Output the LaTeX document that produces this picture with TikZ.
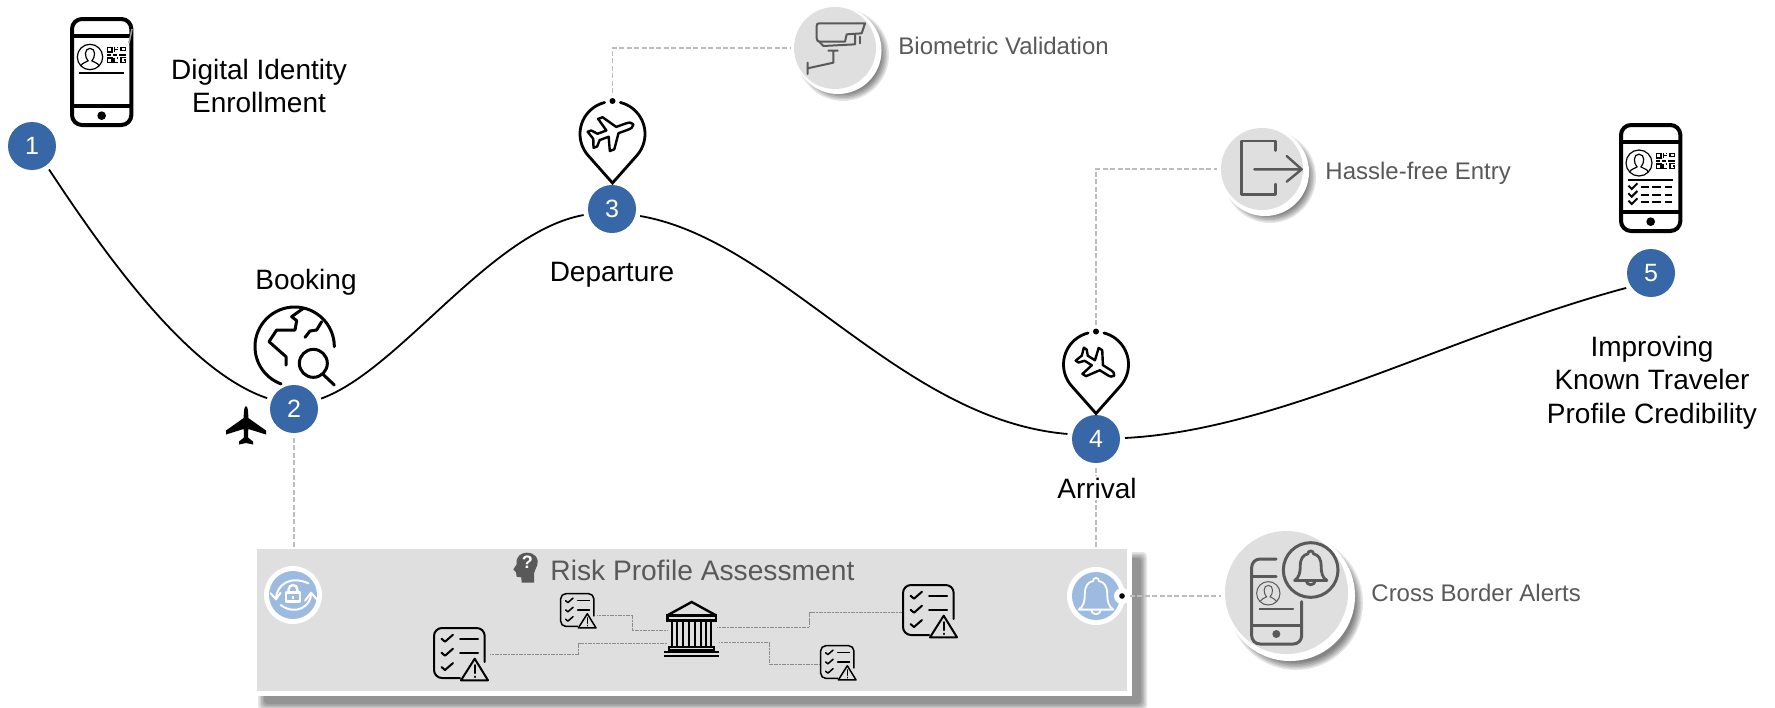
\documentclass[tikz,border=0pt]{standalone}
\usepackage{fontspec}
\setmainfont{Liberation Sans}
\usetikzlibrary{calc}
\definecolor{numblue}{HTML}{3767A6}
\definecolor{softblue}{HTML}{9DBBE0}
\definecolor{panelgrey}{HTML}{DFDFDF}
\definecolor{icongrey}{HTML}{595959}
\definecolor{dashgrey}{HTML}{BDBDBD}
\tikzset{
  zm/.style 2 args={shift={(#1,#2)},scale=0.33333},
  numc/.style={circle,fill=numblue,text=white,minimum size=24pt,inner sep=0pt,outer sep=2.5pt,font=\fontsize{12.5}{15}\selectfont},
  bigtext/.style={inner sep=0pt,align=center,font=\fontsize{14}{16.7}\selectfont},
  greytext/.style={inner sep=0pt,text=icongrey,font=\fontsize{12}{14}\selectfont},
  curve/.style={line width=0.9pt,black},
  dashline/.style={line width=0.9pt,dashgrey,dash pattern=on 2.5pt off 1.2pt},
  thinlink/.style={line width=0.5pt,black!45,dash pattern=on 0.6pt off 0.2pt},
  greydisc/.style={circle,fill=panelgrey,inner sep=0pt,outer sep=1.8pt},
  bluedisc/.style={circle,fill=softblue,inner sep=0pt,minimum size=24pt},
  gicon/.style={icongrey,line cap=round,line join=round},
}
% QR code, local px
\newcommand{\qrcode}[2]{\begin{scope}[shift={(#1,#2)},line width=0.65pt,line join=miter]
  \draw (0.5,0.5) rectangle (5,5); \draw (0.5,11) rectangle (5,15.5);
  \draw (14,0.5) rectangle (18.5,3.5);
  \draw (7.5,0) -- (7.5,5) (7.5,2.5)--(11,2.5) (10.5,0)--(10.5,1);
  \draw (0,8) -- (4,8) (6,8) -- (10,8) (12,8) -- (19,8);
  \draw (7,11) -- (7,15.5) -- (11,15.5) (9.5,11) -- (11,11);
  \draw (18.5,10.5) -- (14,10.5) -- (14,15.5) -- (18.5,15.5) -- (18.5,13) -- (16.5,13);
\end{scope}}
\newcommand{\personicon}[5]{\begin{scope}[shift={(#1,#2)},scale=#3,#5,line width=#4]
  \draw (0,0) circle[radius=1];
  \draw (-.72,.7) .. controls (-.6,.42) and (-.3,.45) .. (-.15,.3) .. controls (-.42,.05) and (-.48,-.68) .. (0,-.68) .. controls (.48,-.68) and (.42,.05) .. (.15,.3) .. controls (.3,.45) and (.6,.42) .. (.72,.7);
\end{scope}}
\newcommand{\phoneframe}[2]{\begin{scope}[zm={#1}{#2}]
  \draw[line width=2pt,rounded corners=5pt] (6,6) rectangle (184,324);
  \draw[line width=2pt] (6,58) -- (184,58) (6,268) -- (184,268);
  \fill (95,296) circle[radius=13];
\end{scope}}
% check list icon; top-left, scale, line width
\newcommand{\chklist}[4]{\begin{scope}[shift={(#1,#2)},scale=#3,line cap=round,line join=round,line width=#4]
  \draw (51.7,35) -- (51.7,9) arc[start angle=0,end angle=-90,radius=8] -- (9,1) arc[start angle=-90,end angle=-180,radius=8] -- (1,43) arc[start angle=180,end angle=90,radius=8] -- (27,51);
  \foreach \yy in {11.7,25.7,40}{\draw (8.5,\yy) -- (12,\yy+3) -- (20,\yy-4);}
  \draw (27,11.7) -- (45,11.7) (27,25.7) -- (45,25.7);
  \draw (41.7,31.7) -- (28,53.3) -- (55,53.3) -- cycle;
  \draw (41.7,38) -- (41.7,46) (41.7,49.5) -- (41.7,50);
\end{scope}}
\newcommand{\pinshape}[2]{\begin{scope}[shift={(#1,#2)},line width=1.4pt,line cap=round]
  \draw (-76:32.5) arc[start angle=-76,end angle=41.5,radius=32.5] -- (0,49) -- (138.5:32.5) arc[start angle=138.5,end angle=256,radius=32.5];
  \fill (0,-33) circle[radius=3];
\end{scope}}
\newcommand{\planeline}{(24,0) .. controls (23,-3) and (20,-3.5) .. (16,-3.5) -- (6,-3.5) -- (-4,-18) -- (-9,-18) -- (-5,-3.5) -- (-15,-3.5) -- (-20,-9) -- (-24,-9) -- (-21,0) -- (-24,9) -- (-20,9) -- (-15,3.5) -- (-5,3.5) -- (-9,18) -- (-4,18) -- (6,3.5) -- (16,3.5) .. controls (20,3.5) and (23,3) .. (24,0) -- cycle}
\newcommand{\bellshape}[5]{\begin{scope}[shift={(#1,#2)},scale=#3,line width=#4,#5,line join=round]
  \draw (-17,31) .. controls (-12,28) and (-11,22) .. (-11,16) .. controls (-11,8) and (-8,4) .. (-3,3) .. controls (-3,-1) and (3,-1) .. (3,3) .. controls (8,4) and (11,8) .. (11,16) .. controls (11,22) and (12,28) .. (17,31) -- cycle;
  \draw (-5,31) .. controls (-4,37) and (4,37) .. (5,31);
\end{scope}}
\newcommand{\softdisc}[3]{\foreach \dd in {5,3.5,2,0.5,-1,-2.5}{\fill[black,opacity=0.1] (#1,#2) circle[radius=#3+\dd];}}
\begin{document}
\begin{tikzpicture}[x=0.5pt,y=-0.5pt]
\useasboundingbox (0,0) rectangle (1775,707);
\fill[white] (0,0) rectangle (1775,707);

% ---------- panel
\foreach \dd in {0,1.5,3,4.5,6}{\fill[black,opacity=0.1,rounded corners=2pt] (258+\dd,552+\dd) rectangle (1147-\dd,710-\dd);}
\fill[white] (257,549) rectangle (1132,696);
\node[rectangle,fill=panelgrey,inner sep=0pt,minimum width=435pt,minimum height=71pt] (panel) at (692,620) {};

% ---------- step circles
\node[numc] (c1) at (32,146) {1};
\node[numc] (c2) at (294,409) {2};
\node[numc] (c3) at (612,209) {3};
\node[numc] (c4) at (1096,439) {4};
\node[numc] (c5) at (1651,273) {5};

% ---------- route
\draw[curve] (c1.-54.7) .. controls (110,262) and (190,372) .. (c2.158.6);
\draw[curve] (c2.21.4) .. controls (400,370) and (490,232) .. (c3.192);
\draw[curve] (c3.-14) .. controls (780,240) and (900,420) .. (c4.170.5);
\draw[curve] (c4.2) .. controls (1280,430) and (1450,335) .. (c5.211);

% ---------- side discs
\softdisc{843}{55}{41}
\fill[white] (838,50.5) circle[radius=43.5];
\node[greydisc,minimum size=41pt] (cam) at (835,48) {};
\softdisc{1270}{177}{41}
\fill[white] (1265,172) circle[radius=44];
\node[greydisc,minimum size=41pt] (door) at (1262,169) {};
\softdisc{1296}{603}{62}
\fill[white] (1290,596) circle[radius=65];
\node[greydisc,minimum size=61.5pt] (alert) at (1286.5,592.5) {};

% ---------- blue discs in the panel
\fill[white] (293,595) circle[radius=29];
\node[bluedisc] (lockc) at (293,595) {};
\fill[white] (1096,596) circle[radius=29];
\node[bluedisc] (bellc) at (1096,596) {};
\fill[white] (1122,596) circle[radius=8];
\fill[black] (1122,596) circle[radius=2.8];
\coordinate (belldot) at (1130,596);

% ---------- dashed links
\coordinate (pinA) at (612.5,93);
\coordinate (pinB) at (1096,325);
\draw[dashline] (pinA) |- (cam.west);
\draw[dashline] (pinB) |- (door.west);
\draw[dashline] (c2.south) -- (c2.south |- panel.north);
\draw[dashline] (c4.south) -- (c4.south |- panel.north);
\draw[dashline] (belldot) -- (belldot -| alert.west);

% ---------- thin links in the panel
\coordinate (chkAe) at (490,654);
\coordinate (bankAw) at (667,643);
\coordinate (chkBe) at (597,615);
\coordinate (bankBw) at (668,630);
\coordinate (bankCe) at (717,627);
\coordinate (chkCw) at (902,612);
\coordinate (bankDe) at (719,642);
\coordinate (chkDw) at (820,664);
\draw[thinlink] (chkAe) -| ($(chkAe)!.5!(bankAw)$) |- (bankAw);
\draw[thinlink] (chkBe) -| ($(chkBe)!.5!(bankBw)$) |- (bankBw);
\draw[thinlink] (bankCe) -| ($(bankCe)!.5!(chkCw)$) |- (chkCw);
\draw[thinlink] (bankDe) -| ($(bankDe)!.5!(chkDw)$) |- (chkDw);

% ---------- texts
\node[bigtext] (t1) at (259,86) {Digital Identity\\Enrollment};
\node[bigtext,anchor=base] (t2) at (306,289) {Booking};
\node[bigtext,anchor=base] (t3) at (612,281) {Departure};
\node[bigtext,anchor=base,fill=white,inner sep=1pt] (t4) at (1097,498) {Arrival};
\node[bigtext] (t5) at (1652,382.5) {Improving\\Known Traveler\\Profile Credibility};
\node[greytext,anchor=base west] (g1) at (898,54) {Biometric Validation};
\node[greytext,anchor=base west] (g2) at (1325,179) {Hassle-free Entry};
\node[greytext,anchor=base west] (g3) at (1371,601) {Cross Border Alerts};
\node[inner sep=0pt,anchor=base west,text=icongrey,font=\fontsize{14.1}{17}\selectfont] (g4) at (550,580) {Risk Profile Assessment};

% ---------- phones
\phoneframe{70}{17}
\personicon{90}{57}{12.7}{0.6pt}{black}
\qrcode{107}{47}
\draw[line width=0.8pt] (79,73) -- (124,73);
\draw[black!40,line width=0.8pt] (132,29) -- (129,43);

\phoneframe{1619}{123}
\personicon{1639}{163}{13}{0.6pt}{black}
\qrcode{1656}{153}
\draw[line width=1pt] (1628,180) -- (1673,180);
\begin{scope}[zm={1619}{123},line width=1pt]
  \foreach \yy in {192,215,237}{
    \draw (28,\yy-4) -- (38,\yy+6) -- (55,\yy-11);
    \draw (66,\yy) -- (90,\yy) (100,\yy) -- (125,\yy) (138,\yy) -- (160,\yy);
  }
\end{scope}

% ---------- globe
\begin{scope}[zm={200}{250},line width=1.5pt,line cap=round,line join=round]
  \draw (403,290) arc[start angle=0,end angle=-250,radius=119];
  \draw (310,175) -- (275,200) -- (290,212) -- (285,240) -- (230,240) -- (207,275) -- (258,320) -- (258,345);
  \draw (365,215) -- (350,240) -- (330,243) -- (315,262);
  \draw (340,340) circle[radius=42];
  \draw (368,372) -- (403,405);
\end{scope}
% black aeroplane
\begin{scope}[shift={(246,406)}]
  \fill[line join=round] (0,0) .. controls (1.5,1) and (2.3,3) .. (2.3,12) -- (20,24.5) -- (20,28.5) -- (2.3,23) -- (2,31.5) -- (7,35.5) -- (7,38.5) -- (0,37) -- (-7,38.5) -- (-7,35.5) -- (-2,31.5) -- (-2.3,23) -- (-20,28.5) -- (-20,24.5) -- (-2.3,12) .. controls (-2.3,3) and (-1.5,1) .. (0,0) -- cycle;
\end{scope}

% ---------- pins
\pinshape{612.5}{134}
\begin{scope}[shift={(612,132)},rotate=20,scale=0.95]
  \draw[line width=1.2pt,line join=round] \planeline;
\end{scope}
\pinshape{1096}{364.5}
\begin{scope}[shift={(1097,365)},rotate=-32,scale=0.85]
  \draw[line width=1.2pt,line join=round] \planeline;
\end{scope}

% ---------- camera
\begin{scope}[zm={540}{0},gicon,line width=1pt]
  \draw (975,70) -- (838,70) .. controls (832,70) and (830,72) .. (830,78) -- (830,115) .. controls (830,122) and (834,125) .. (840,125) -- (915,125) -- (920,103) -- (965,100) -- cycle;
  \draw (838,125) -- (850,138) -- (945,133) -- (945,103);
  \draw (960,110) -- (960,130);
  \draw (865,152) -- (893,152) (880,152) -- (880,188) -- (803,205) (803,188) -- (803,222);
\end{scope}
% ---------- door
\begin{scope}[zm={1030}{110},gicon,line width=1.2pt]
  \draw (737,122) -- (737,93) -- (635,93) -- (635,253) -- (737,253) -- (737,222);
  \draw (673,178) -- (815,178) (770,138) -- (815,178) -- (770,215);
\end{scope}
% ---------- phone with bell
\begin{scope}[zm={1100}{510},gicon,line width=1.5pt]
  \draw (528,147) -- (480,147) arc[start angle=-90,end angle=-180,radius=25] -- (455,377) arc[start angle=180,end angle=90,radius=25] -- (580,402) arc[start angle=90,end angle=0,radius=25] -- (605,275);
  \draw (455,200) -- (528,200) (455,345) -- (605,345);
  \fill (529,372) circle[radius=12];
  \draw (632,180) circle[radius=82];
  \draw[line width=0.6pt] (478,297) -- (580,297);
\end{scope}
\personicon{1268.3}{593.3}{11.7}{0.5pt}{icongrey}
\bellshape{1310.7}{551}{0.95}{1.4pt}{icongrey}

% ---------- bell in panel
\bellshape{1096}{578}{1.02}{0.9pt}{white}
% ---------- lock
\begin{scope}[zm={240}{530},white,line cap=round,line join=round,line width=1pt]
  \draw[line width=1.2pt] (138,188) rectangle (180,215);
  \draw[line width=1.2pt] (146,188) -- (146,178) arc[start angle=180,end angle=360,radius=13] -- (172,188);
  \fill (155,197) rectangle (163,206);
  \draw (108,205) .. controls (110,165) and (150,135) .. (205,160);
  \draw (213,190) .. controls (215,225) and (170,260) .. (122,225);
  \draw (92,190) -- (108,208) -- (122,188);
  \draw (195,212) -- (213,188) -- (232,210);
\end{scope}

% ---------- head
\begin{scope}[zm={240}{530}]
  \fill[icongrey] (820,118) -- (830,103) .. controls (826,78) and (845,68) .. (860,68) .. controls (885,68) and (898,85) .. (892,105) .. controls (890,115) and (883,120) .. (882,130) -- (882,158) -- (845,158) -- (844,142) -- (830,140) -- (828,127) -- cycle;
  \node[inner sep=0pt,text=white,font=\bfseries\fontsize{9}{10}\selectfont] (headq) at (862,98) {?};
\end{scope}

% ---------- bank
\begin{scope}[zm={640}{530},line join=miter]
  \draw[line width=1.2pt] (82,256) -- (155,216) -- (228,256);
  \draw[line width=1.2pt] (82,256) rectangle (228,272);
  \foreach \xx in {95,112,130,148,165,182,199,214}{\draw[line width=0.9pt] (\xx,272) -- (\xx,350);}
  \draw[line width=1.1pt] (88,350) rectangle (222,360);
  \draw[line width=1pt] (72,367) -- (238,367) (72,377) -- (238,377);
\end{scope}

% ---------- check lists
\chklist{433}{627}{1}{1pt}
\chklist{902}{584}{1}{1pt}
\chklist{560}{593}{0.655}{0.75pt}
\chklist{820}{645}{0.655}{0.75pt}
\end{tikzpicture}
\end{document}
